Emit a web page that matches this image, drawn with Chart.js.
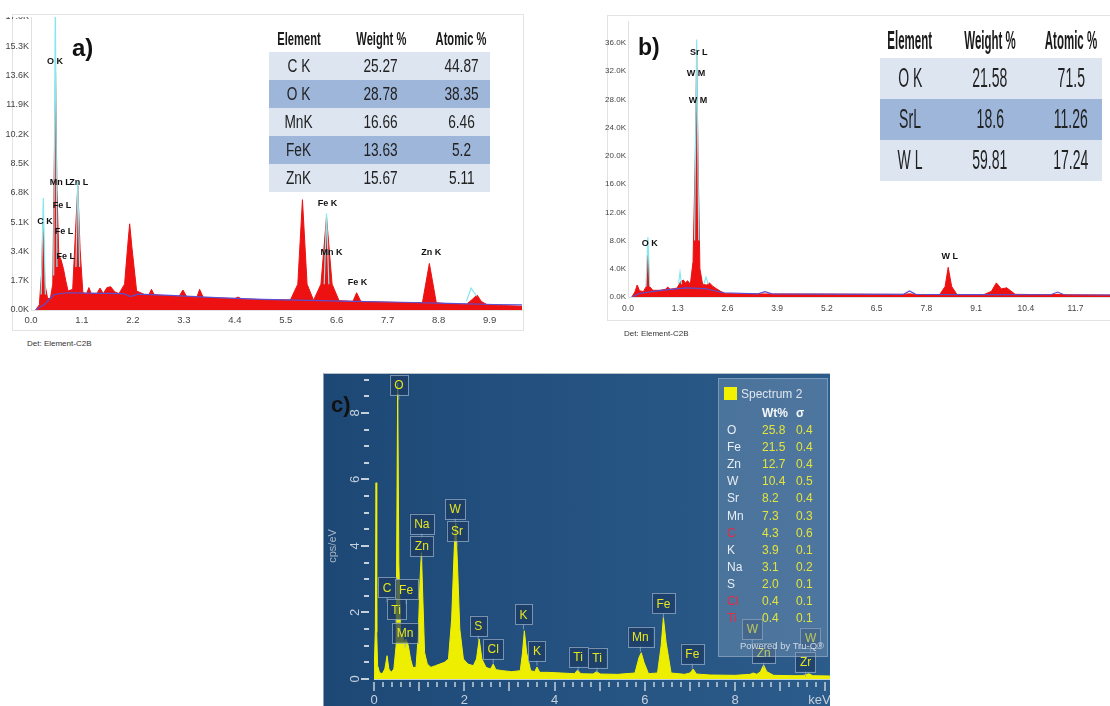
<!DOCTYPE html>
<html>
<head>
<meta charset="utf-8">
<title>EDS spectra</title>
<script src="https://cdn.jsdelivr.net/npm/chart.js@4.4.1/dist/chart.umd.min.js"></script>
<style>
  body { margin: 0; width: 1110px; height: 706px; position: relative; overflow: hidden; background: #fff; font-family: "Liberation Sans", Arial, sans-serif; }
  canvas { position: absolute; }
  .frame { position: absolute; border: 1px solid #e3e3e3; box-sizing: border-box; }
  .clip { position: absolute; overflow: hidden; }
  .tag { position: absolute; font-weight: bold; color: #111; line-height: 1; }
  .det { position: absolute; font-size: 8px; color: #333; white-space: nowrap; }
  table.res { position: absolute; border-collapse: collapse; table-layout: fixed; }
  table.res td { padding: 0; text-align: center; color: #222; overflow: visible; white-space: nowrap; }
  table.res span { display: inline-block; white-space: nowrap; margin: 0 -80px; }
  #tableA { left: 269px; top: 26px; width: 221px; }
  #tableA tr.head td { height: 26px; font-size: 18px; font-weight: bold; color: #1a1a1a; }
  #tableA tr.head span { transform: scaleX(0.62); }
  #tableA tr.row td { height: 28px; font-size: 18px; }
  #tableA tr.row span { transform: scaleX(0.76); }
  #tableB { left: 880px; top: 22px; width: 222px; }
  #tableB tr.head td { height: 36px; font-size: 25px; font-weight: bold; color: #1a1a1a; }
  #tableB tr.head span { transform: scaleX(0.46); }
  #tableB tr.row td { height: 41px; font-size: 27px; }
  #tableB tr.row span { transform: scaleX(0.52); }
  tr.light td { background: #dde5f1; }
  tr.dark td { background: #9db6da; }
  #panelC { position: absolute; left: 323px; top: 373px; width: 507px; height: 333px; background: linear-gradient(to right, #1d4876, #2c5c8b); border-top: 1px solid #b8c0c8; border-left: 1px solid #8a9cb0; box-sizing: border-box; }
  #legendC { position: absolute; left: 718px; top: 378px; width: 110px; height: 279px; background: rgba(125, 155, 185, 0.42); border: 1px solid rgba(170, 190, 210, 0.5); box-sizing: border-box; font-size: 12px; color: #e6edf4; }
  #legendC div { position: absolute; white-space: nowrap; line-height: 1; }
</style>
</head>
<body>

<div class="frame" style="left:12px; top:14px; width:512px; height:317px;"></div>
<div class="frame" style="left:607px; top:15px; width:520px; height:306px;"></div>
<div id="panelC"></div>

<div class="clip" style="left:0px; top:17px; width:530px; height:335px;">
  <canvas id="chartA" width="530" height="335" style="left:0px; top:-17px;"></canvas>
</div>
<canvas id="chartB" width="510" height="320" style="left:600px; top:15px;"></canvas>
<canvas id="chartC" width="507" height="333" style="left:323px; top:373px;"></canvas>

<table class="res" id="tableA"></table>
<table class="res" id="tableB"></table>
<div id="legendC"></div>

<div class="tag" style="left:72px; top:36px; font-size:24px;">a)</div>
<div class="tag" style="left:638px; top:36px; font-size:23px;">b)</div>
<div class="tag" style="left:331px; top:394px; font-size:22px;">c)</div>
<div class="det" style="left:27px; top:339px;">Det: Element-C2B</div>
<div class="det" style="left:624px; top:329px;">Det: Element-C2B</div>

<script>
// ---------- panel a: spectrum (keV, counts) ----------
const aKeV = [0.10, 0.18, 0.23, 0.26, 0.30, 0.36, 0.42, 0.47, 0.50, 0.53, 0.56, 0.60, 0.65, 0.70, 0.75, 0.80, 0.90, 0.96, 1.01, 1.06, 1.12, 1.20, 1.25, 1.30, 1.42, 1.49, 1.56, 1.64, 1.72, 1.81, 1.90, 2.02, 2.09, 2.13, 2.18, 2.28, 2.45, 2.55, 2.60, 2.66, 3.00, 3.20, 3.28, 3.36, 3.58, 3.64, 3.72, 4.00, 4.40, 4.47, 4.55, 5.00, 5.60, 5.76, 5.86, 5.96, 6.10, 6.26, 6.38, 6.50, 6.65, 6.95, 7.03, 7.12, 7.50, 8.00, 8.45, 8.60, 8.75, 9.00, 9.40, 9.52, 9.63, 9.72, 9.85, 10.20, 10.60];
const aCounts = [0, 300, 2200, 5200, 1500, 650, 700, 1500, 8000, 13800, 7000, 3200, 2900, 2400, 1700, 1100, 1200, 4500, 7200, 3500, 1000, 950, 1300, 950, 950, 1270, 950, 1300, 1350, 1050, 950, 1500, 3800, 5000, 3600, 1100, 900, 900, 1200, 880, 820, 800, 1160, 780, 720, 1200, 720, 700, 660, 750, 640, 600, 580, 1500, 6400, 1500, 560, 1500, 5400, 1500, 540, 500, 1000, 500, 460, 430, 420, 2700, 420, 360, 330, 600, 870, 500, 300, 260, 220];
const aBgKeV = [0.10, 0.30, 0.50, 0.80, 1.20, 2.00, 2.15, 2.30, 3.00, 4.00, 5.00, 6.00, 7.00, 8.00, 9.00, 10.00, 10.60];
const aBgCounts = [0, 350, 900, 1000, 980, 950, 780, 920, 850, 720, 620, 560, 500, 450, 380, 320, 300];
const aFitKeV = [0.22, 0.265, 0.31, 0.32, 0.49, 0.525, 0.56, 0.57, 0.97, 1.01, 1.05, 1.06, 6.33, 6.38, 6.43, 6.44, 9.40, 9.50, 9.62];
const aFitCounts = [900, 6500, 900, null, 2000, 18000, 2500, null, 2500, 7500, 2500, null, 1500, 5600, 1500, null, 500, 1270, 800];
const aXTicks = [0, 1.1, 2.2, 3.3, 4.4, 5.5, 6.6, 7.7, 8.8, 9.9];
const aYTicks = [0, 1700, 3400, 5100, 6800, 8500, 10200, 11900, 13600, 15300, 17000];
const aPeakNames = ['O K', 'C K', 'Mn L', 'Zn L', 'Fe L', 'Fe L', 'Fe L', 'Fe K', 'Mn K', 'Fe K', 'Zn K'];
const aPeakKeV = [0.52, 0.30, 0.63, 1.03, 0.67, 0.71, 0.75, 6.40, 6.49, 7.05, 8.64];
const aPeakLevel = [14400, 5160, 7370, 7420, 6090, 4580, 3130, 6150, 3360, 1620, 3360];
const aTableElements = ['C K', 'O K', 'MnK', 'FeK', 'ZnK'];
const aTableWeight = ['25.27', '28.78', '16.66', '13.63', '15.67'];
const aTableAtomic = ['44.87', '38.35', '6.46', '5.2', '5.11'];

// ---------- panel b ----------
const bKeV = [0.10, 0.18, 0.24, 0.30, 0.40, 0.48, 0.52, 0.56, 0.65, 0.85, 0.98, 1.04, 1.10, 1.28, 1.38, 1.45, 1.50, 1.56, 1.63, 1.70, 1.76, 1.795, 1.83, 1.88, 1.95, 2.05, 2.13, 2.22, 2.32, 2.42, 2.55, 3.00, 3.60, 4.50, 5.50, 6.50, 7.20, 7.36, 7.50, 8.15, 8.29, 8.37, 8.46, 8.60, 9.30, 9.50, 9.63, 9.76, 9.90, 10.00, 10.12, 11.00, 11.23, 11.50, 12.60];
const bCounts = [0, 700, 1700, 900, 750, 1500, 5900, 1500, 950, 950, 1100, 1400, 1100, 1250, 2200, 2400, 2000, 2300, 1800, 5000, 20000, 34200, 20000, 4000, 1800, 1700, 2000, 1500, 1150, 800, 480, 440, 430, 420, 400, 380, 370, 450, 360, 350, 1500, 4200, 1500, 350, 330, 800, 2000, 1150, 1300, 900, 380, 320, 380, 310, 280];
const bBgKeV = [0.10, 0.30, 0.80, 1.50, 2.00, 2.50, 3.40, 3.58, 3.76, 5.00, 7.20, 7.36, 7.52, 9.00, 11.05, 11.23, 11.40, 12.60];
const bBgCounts = [0, 500, 900, 1300, 1200, 600, 450, 750, 450, 420, 380, 850, 380, 340, 320, 700, 320, 280];
const bFitKeV = [0.47, 0.52, 0.57, 0.58, 1.32, 1.36, 1.40, 1.41, 1.74, 1.795, 1.85, 1.86, 1.98, 2.04, 2.10];
const bFitCounts = [1500, 8500, 1500, null, 1800, 3500, 1800, null, 8000, 36500, 8000, null, 1800, 2800, 1800];
const bXTicks = [0, 1.3, 2.6, 3.9, 5.2, 6.5, 7.8, 9.1, 10.4, 11.7];
const bYTicks = [0, 4000, 8000, 12000, 16000, 20000, 24000, 28000, 32000, 36000];
const bPeakNames = ['Sr L', 'W M', 'W M', 'O K', 'W L'];
const bPeakKeV = [1.85, 1.78, 1.83, 0.57, 8.41];
const bPeakLevel = [34670, 31700, 27880, 7640, 5800];
const bTableElements = ['O K', 'SrL', 'W L'];
const bTableWeight = ['21.58', '18.6', '59.81'];
const bTableAtomic = ['71.5', '11.26', '17.24'];

// ---------- panel c: spectrum (keV, cps/eV) ----------
const cKeV = [0.00, 0.03, 0.045, 0.06, 0.08, 0.12, 0.18, 0.24, 0.29, 0.33, 0.38, 0.44, 0.49, 0.525, 0.55, 0.59, 0.63, 0.67, 0.71, 0.76, 0.81, 0.86, 0.93, 0.98, 1.02, 1.05, 1.08, 1.12, 1.18, 1.26, 1.36, 1.46, 1.56, 1.65, 1.72, 1.78, 1.81, 1.85, 1.90, 1.98, 2.08, 2.20, 2.27, 2.33, 2.39, 2.48, 2.58, 2.64, 2.70, 2.85, 3.05, 3.24, 3.29, 3.33, 3.38, 3.47, 3.56, 3.61, 3.67, 3.85, 4.15, 4.44, 4.51, 4.58, 4.85, 4.93, 5.01, 5.40, 5.78, 5.87, 5.92, 5.98, 6.08, 6.28, 6.36, 6.41, 6.47, 6.58, 6.88, 7.00, 7.07, 7.14, 7.45, 8.00, 8.33, 8.40, 8.48, 8.56, 8.63, 8.70, 8.85, 9.30, 9.48, 9.55, 9.63, 9.72, 10.10];
const cValues = [0.0, 1.5, 5.9, 1.4, 0.4, 0.2, 0.15, 0.3, 0.7, 0.3, 0.2, 0.3, 1.0, 8.9, 3.5, 1.3, 1.35, 1.1, 1.2, 1.0, 0.6, 0.35, 0.35, 1.3, 3.0, 3.8, 2.5, 0.8, 0.45, 0.35, 0.4, 0.45, 0.5, 0.6, 1.8, 4.0, 4.7, 3.4, 1.5, 0.6, 0.45, 0.4, 0.6, 1.2, 0.6, 0.35, 0.3, 0.45, 0.28, 0.25, 0.22, 0.25, 0.8, 1.45, 0.8, 0.25, 0.22, 0.36, 0.2, 0.2, 0.18, 0.16, 0.27, 0.16, 0.15, 0.22, 0.15, 0.14, 0.18, 0.65, 0.79, 0.5, 0.16, 0.18, 1.0, 1.85, 1.1, 0.18, 0.14, 0.18, 0.3, 0.15, 0.12, 0.11, 0.14, 0.18, 0.14, 0.22, 0.42, 0.22, 0.11, 0.1, 0.1, 0.12, 0.16, 0.1, 0.09];
const cXLabels = [0, 2, 4, 6, 8, 10];
const cYLabels = [0, 2, 4, 6, 8];
const cYMinor = [0, 0.5, 1, 1.5, 2, 2.5, 3, 3.5, 4, 4.5, 5, 5.5, 6, 6.5, 7, 7.5, 8, 8.5, 9];
const cTagNames = ['O', 'Na', 'Zn', 'W', 'Sr', 'C', 'Fe', 'Ti', 'Mn', 'S', 'Cl', 'K', 'K', 'Ti', 'Ti', 'Mn', 'Fe', 'Fe', 'W', 'Zn', 'W', 'Zr'];
const cTagKeV = [0.55, 1.06, 1.06, 1.80, 1.84, 0.29, 0.71, 0.49, 0.69, 2.31, 2.64, 3.31, 3.61, 4.52, 4.94, 5.90, 6.41, 7.05, 8.38, 8.63, 9.67, 9.56];
const cTagLevel = [8.85, 4.67, 4.0, 5.12, 4.45, 2.76, 2.7, 2.09, 1.39, 1.6, 0.91, 1.94, 0.85, 0.67, 0.64, 1.27, 2.27, 0.76, 1.5, 0.79, 1.24, 0.52];
const cElements = ['O', 'Fe', 'Zn', 'W', 'Sr', 'Mn', 'C', 'K', 'Na', 'S', 'Cl', 'Ti'];
const cWt = ['25.8', '21.5', '12.7', '10.4', '8.2', '7.3', '4.3', '3.9', '3.1', '2.0', '0.4', '0.4'];
const cSigma = ['0.4', '0.4', '0.4', '0.5', '0.4', '0.3', '0.6', '0.1', '0.2', '0.1', '0.1', '0.1'];
const cRedElements = ['C', 'Cl', 'Ti'];

function toPoints(xs, ys) {
    return xs.map((x, i) => ({ x: x, y: ys[i] }));
}

function fillTable(id, elements, weight, atomic, widths) {
    const table = document.getElementById(id);
    let html = '<colgroup>' + widths.map(w => `<col style="width:${w}px">`).join('') + '</colgroup>';
    html += '<tr class="head"><td><span>Element</span></td><td><span>Weight %</span></td><td><span>Atomic %</span></td></tr>';
    elements.forEach((el, i) => {
        const cls = i % 2 === 0 ? 'light' : 'dark';
        html += `<tr class="row ${cls}"><td><span>${el}</span></td><td><span>${weight[i]}</span></td><td><span>${atomic[i]}</span></td></tr>`;
    });
    table.innerHTML = html;
}

function fillLegend() {
    const box = document.getElementById('legendC');
    let html = '<div style="left:5px; top:8px; width:13px; height:13px; background:#f2f200;"></div>';
    html += '<div style="left:22px; top:9px; font-size:12px; color:#dfe6ee;">Spectrum 2</div>';
    html += '<div style="left:43px; top:28px; font-weight:bold; color:#f4f6f8;">Wt%</div>';
    html += '<div style="left:77px; top:28px; font-weight:bold; color:#f4f6f8;">σ</div>';
    cElements.forEach((el, i) => {
        const top = 45 + i * 17.1;
        const col = cRedElements.includes(el) ? '#ec2a40' : '#e8eef4';
        html += `<div style="left:8px; top:${top}px; color:${col};">${el}</div>`;
        html += `<div style="left:43px; top:${top}px; color:#e4e43c;">${cWt[i]}</div>`;
        html += `<div style="left:77px; top:${top}px; color:#e4e43c;">${cSigma[i]}</div>`;
    });
    html += '<div style="left:21px; top:262px; font-size:9.5px; color:rgba(235,240,245,0.8);">Powered by Tru-Q®</div>';
    box.innerHTML = html;
}

// text labels placed at (keV, counts) through the chart scales
function peakLabelPlugin(names, keV, level, font) {
    return {
        id: 'peakLabels',
        afterDatasetsDraw(chart) {
            const { ctx, scales: { x, y } } = chart;
            ctx.save();
            ctx.font = font;
            ctx.fillStyle = '#111';
            ctx.textAlign = 'center';
            ctx.textBaseline = 'middle';
            names.forEach((n, i) => {
                ctx.fillText(n, x.getPixelForValue(keV[i]), y.getPixelForValue(level[i]));
            });
            ctx.restore();
        }
    };
}

function spectrumChart(canvasId, cfg) {
    return new Chart(document.getElementById(canvasId), {
        type: 'line',
        data: {
            datasets: [
                {
                    data: toPoints(cfg.keV, cfg.counts),
                    borderColor: '#ee1111',
                    backgroundColor: '#ee1111',
                    borderWidth: 1,
                    fill: 'origin',
                    order: 3
                },
                {
                    data: toPoints(cfg.bgKeV, cfg.bgCounts),
                    borderColor: '#5b4fd0',
                    borderWidth: 1.2,
                    fill: false,
                    order: 2
                },
                {
                    data: toPoints(cfg.fitKeV, cfg.fitCounts),
                    borderColor: '#86e8ef',
                    borderWidth: 1.2,
                    fill: false,
                    spanGaps: false,
                    order: 1
                }
            ]
        },
        options: {
            responsive: false,
            animation: false,
            events: [],
            elements: { point: { radius: 0 }, line: { tension: 0 } },
            layout: { padding: cfg.padding },
            plugins: { legend: { display: false }, tooltip: { enabled: false } },
            scales: {
                x: {
                    type: 'linear',
                    min: 0,
                    max: cfg.xMax,
                    afterBuildTicks: (axis) => { axis.ticks = cfg.xTicks.map(v => ({ value: v })); },
                    afterFit: (axis) => { axis.height = cfg.xHeight; },
                    grid: { display: false, drawTicks: false },
                    border: { display: true, color: '#e0e0e0' },
                    ticks: {
                        autoSkip: false,
                        maxRotation: 0,
                        padding: cfg.xPad,
                        color: '#444',
                        font: { family: 'Liberation Sans', size: cfg.fontSize },
                        callback: (v) => Number(v).toFixed(1)
                    }
                },
                y: {
                    min: 0,
                    max: cfg.yMax,
                    afterBuildTicks: (axis) => { axis.ticks = cfg.yTicks.map(v => ({ value: v })); },
                    afterFit: (axis) => { axis.width = cfg.yWidth; },
                    grid: { display: false, drawTicks: false },
                    border: { display: true, color: '#e0e0e0' },
                    ticks: {
                        autoSkip: false,
                        padding: 2,
                        color: '#444',
                        font: { family: 'Liberation Sans', size: cfg.fontSize - 0.5 },
                        callback: (v) => (v / 1000).toFixed(1) + 'K'
                    }
                }
            }
        },
        plugins: [peakLabelPlugin(cfg.names, cfg.peakKeV, cfg.peakLevel, cfg.labelFont)]
    });
}

spectrumChart('chartA', {
    keV: aKeV, counts: aCounts, bgKeV: aBgKeV, bgCounts: aBgCounts, fitKeV: aFitKeV, fitCounts: aFitCounts,
    xTicks: aXTicks, yTicks: aYTicks, xMax: 10.6, yMax: 17000,
    padding: { top: 17, right: 8, left: 0, bottom: 0 }, xHeight: 25, yWidth: 31, xPad: 5, fontSize: 9.5,
    names: aPeakNames, peakKeV: aPeakKeV, peakLevel: aPeakLevel, labelFont: 'bold 9px "Liberation Sans Narrow", "Liberation Sans"'
});

spectrumChart('chartB', {
    keV: bKeV, counts: bCounts, bgKeV: bBgKeV, bgCounts: bBgCounts, fitKeV: bFitKeV, fitCounts: bFitCounts,
    xTicks: bXTicks, yTicks: bYTicks, xMax: 12.6, yMax: 39000,
    padding: { top: 6, right: 0, left: 0, bottom: 0 }, xHeight: 38, yWidth: 28, xPad: 7, fontSize: 8.5,
    names: bPeakNames, peakKeV: bPeakKeV, peakLevel: bPeakLevel, labelFont: 'bold 9px "Liberation Sans Narrow", "Liberation Sans"'
});

// axis marks, tick labels and element tags for panel c
const cDecor = {
    id: 'cDecor',
    afterDatasetsDraw(chart) {
        const { ctx, chartArea, scales: { x, y } } = chart;
        ctx.save();
        ctx.strokeStyle = '#c6d0da';
        ctx.fillStyle = '#c6d0da';
        // y ticks
        ctx.lineWidth = 2;
        cYMinor.forEach(v => {
            const py = Math.round(y.getPixelForValue(v));
            const major = cYLabels.includes(v);
            ctx.beginPath();
            ctx.moveTo(chartArea.left - (major ? 13 : 10), py);
            ctx.lineTo(chartArea.left - 5, py);
            ctx.stroke();
        });
        ctx.font = '13px "Liberation Sans"';
        ctx.textAlign = 'center';
        ctx.textBaseline = 'middle';
        cYLabels.forEach(v => {
            ctx.save();
            ctx.translate(chartArea.left - 19, y.getPixelForValue(v));
            ctx.rotate(-Math.PI / 2);
            ctx.fillText(String(v), 0, 0);
            ctx.restore();
        });
        ctx.save();
        ctx.fillStyle = '#a9b7c6';
        ctx.font = '11px "Liberation Sans"';
        ctx.translate(chartArea.left - 41, y.getPixelForValue(4));
        ctx.rotate(-Math.PI / 2);
        ctx.fillText('cps/eV', 0, 0);
        ctx.restore();
        // x axis line and ticks
        ctx.lineWidth = 1;
        ctx.beginPath();
        ctx.moveTo(chartArea.left, chartArea.bottom + 0.5);
        ctx.lineTo(chartArea.right, chartArea.bottom + 0.5);
        ctx.stroke();
        ctx.lineWidth = 1.5;
        for (let i = 0; i <= 50; i++) {
            const v = i * 0.2;
            const px = Math.round(x.getPixelForValue(v));
            const len = i % 5 === 0 ? 9 : 5;
            ctx.beginPath();
            ctx.moveTo(px, chartArea.bottom + 3);
            ctx.lineTo(px, chartArea.bottom + 3 + len);
            ctx.stroke();
        }
        ctx.font = '13px "Liberation Sans"';
        cXLabels.forEach(v => {
            const txt = v === 10 ? 'keV' : String(v);
            ctx.fillText(txt, x.getPixelForValue(v) - (v === 10 ? 6 : 0), chartArea.bottom + 21);
        });
        // element tags
        ctx.font = '12px "Liberation Sans"';
        ctx.lineWidth = 1;
        cTagNames.forEach((n, i) => {
            const cx = x.getPixelForValue(cTagKeV[i]);
            const cy = y.getPixelForValue(cTagLevel[i]);
            const w = ctx.measureText(n).width + 9;
            const h = 20;
            ctx.fillStyle = 'rgba(28, 58, 98, 0.72)';
            ctx.fillRect(cx - w / 2, cy - h / 2, w, h);
            ctx.strokeStyle = 'rgba(150, 172, 196, 0.75)';
            ctx.strokeRect(Math.round(cx - w / 2) + 0.5, Math.round(cy - h / 2) + 0.5, Math.round(w), h);
            ctx.beginPath();
            ctx.moveTo(cx, cy + h / 2);
            ctx.lineTo(cx, cy + h / 2 + 5);
            ctx.stroke();
            ctx.fillStyle = '#e6e61e';
            ctx.fillText(n, cx, cy + 1);
        });
        ctx.restore();
    }
};

new Chart(document.getElementById('chartC'), {
    type: 'line',
    data: {
        datasets: [{
            data: toPoints(cKeV, cValues),
            borderColor: '#f2f200',
            backgroundColor: '#eeee00',
            borderWidth: 1,
            fill: 'origin'
        }]
    },
    options: {
        responsive: false,
        animation: false,
        events: [],
        elements: { point: { radius: 0 }, line: { tension: 0 } },
        layout: { padding: { left: 51, right: 0, top: 0, bottom: 27 } },
        plugins: { legend: { display: false }, tooltip: { enabled: false } },
        scales: {
            x: { type: 'linear', min: 0, max: 10.1, display: false },
            y: { min: 0, max: 9.2, display: false }
        }
    },
    plugins: [cDecor]
});

fillTable('tableA', aTableElements, aTableWeight, aTableAtomic, [60, 104, 57]);
fillTable('tableB', bTableElements, bTableWeight, bTableAtomic, [60, 100, 62]);
fillLegend();
</script>
</body>
</html>
